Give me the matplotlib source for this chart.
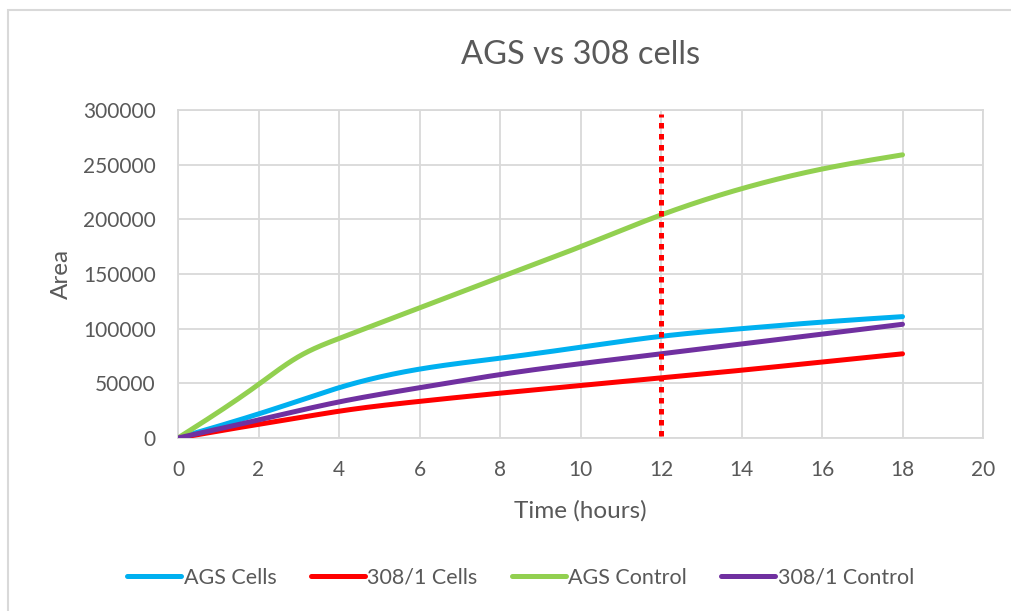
import numpy as np
import matplotlib.pyplot as plt
from matplotlib.patches import Rectangle


hours = [0, 2, 3, 4, 6, 8, 10, 12, 14, 16, 18]

ags_cells = [0, 22000, 34000, 46000, 63000, 73000, 83000, 93000, 100000, 106000, 111000]
cells_308 = [0, 12500, 18500, 24500, 33500, 41000, 48000, 55000, 62000, 69500, 77000]
ags_control = [0, 49000, 74500, 91000, 119000, 147000, 175000, 204000, 228000, 246000, 259000]
control_308 = [0, 16500, 25000, 33000, 46000, 58000, 68000, 77000, 86000, 95000, 104000]

series = [
    ("AGS Cells", ags_cells, "#00b0f0"),
    ("308/1 Cells", cells_308, "#ff0000"),
    ("AGS Control", ags_control, "#92d050"),
    ("308/1 Control", control_308, "#7030a0"),
]

marker_hour = 12

TEXT = "#595959"
GRID = "#d9d9d9"

plt.rcParams["font.family"] = ["Lato", "DejaVu Sans"]


def smooth(x, y, n=400):
    # natural cubic spline through the points (smoothed line)
    x = np.asarray(x, float)
    y = np.asarray(y, float)
    k = len(x)
    h = np.diff(x)
    A = np.zeros((k, k))
    b = np.zeros(k)
    A[0, 0] = A[-1, -1] = 1
    for i in range(1, k - 1):
        A[i, i - 1] = h[i - 1]
        A[i, i] = 2 * (h[i - 1] + h[i])
        A[i, i + 1] = h[i]
        b[i] = 6 * ((y[i + 1] - y[i]) / h[i] - (y[i] - y[i - 1]) / h[i - 1])
    M = np.linalg.solve(A, b)
    xs = np.linspace(x[0], x[-1], n)
    idx = np.clip(np.searchsorted(x, xs) - 1, 0, k - 2)
    x0, x1 = x[idx], x[idx + 1]
    hh = x1 - x0
    a = (x1 - xs) / hh
    c = (xs - x0) / hh
    ys = (a * y[idx] + c * y[idx + 1]
          + ((a ** 3 - a) * M[idx] + (c ** 3 - c) * M[idx + 1]) * hh ** 2 / 6)
    return xs, ys


fig = plt.figure(figsize=(10.11, 6.11), dpi=100)
fig.patches.append(
    Rectangle((8 / 1011, -0.05), 1.1, 1 - 10 / 611 + 0.05,
              transform=fig.transFigure, fill=False,
              edgecolor=GRID, linewidth=1.5)
)

ax = fig.add_axes([178 / 1011, 1 - 438 / 611, (983 - 178) / 1011, (438 - 110) / 611])

for label, values, color in series:
    sx, sy = smooth(hours, values)
    ax.plot(sx, sy, color=color, linewidth=3.6, solid_capstyle="round",
            label=label, zorder=3)

ax.vlines(marker_hour, 2000, 296000, colors="#ff0000", linewidth=3.6,
          linestyles=(0, (1.1, 1.1)), zorder=4)

ax.set_xlim(0, 20)
ax.set_ylim(0, 300000)
ax.set_xticks(range(0, 21, 2))
ax.set_yticks(range(0, 300001, 50000))
ax.grid(True, color=GRID, linewidth=1.3)
ax.set_axisbelow(True)
for side in ax.spines.values():
    side.set_color(GRID)
    side.set_linewidth(1.3)
ax.tick_params(length=0, labelsize=15, labelcolor=TEXT, pad=16)

ax.set_title("AGS vs 308 cells", fontsize=23.5, color=TEXT, pad=33)
ax.set_xlabel("Time (hours)", fontsize=17.5, color=TEXT, labelpad=14)
ax.set_ylabel("Area", fontsize=17.5, color=TEXT, labelpad=8)

fig.legend(loc="center", bbox_to_anchor=(0.515, 1 - 578 / 611), ncol=4,
           frameon=False, fontsize=15.5, labelcolor=TEXT,
           handlelength=2.5, handletextpad=0.12, columnspacing=1.6)

fig.savefig("out.png", dpi=100)
